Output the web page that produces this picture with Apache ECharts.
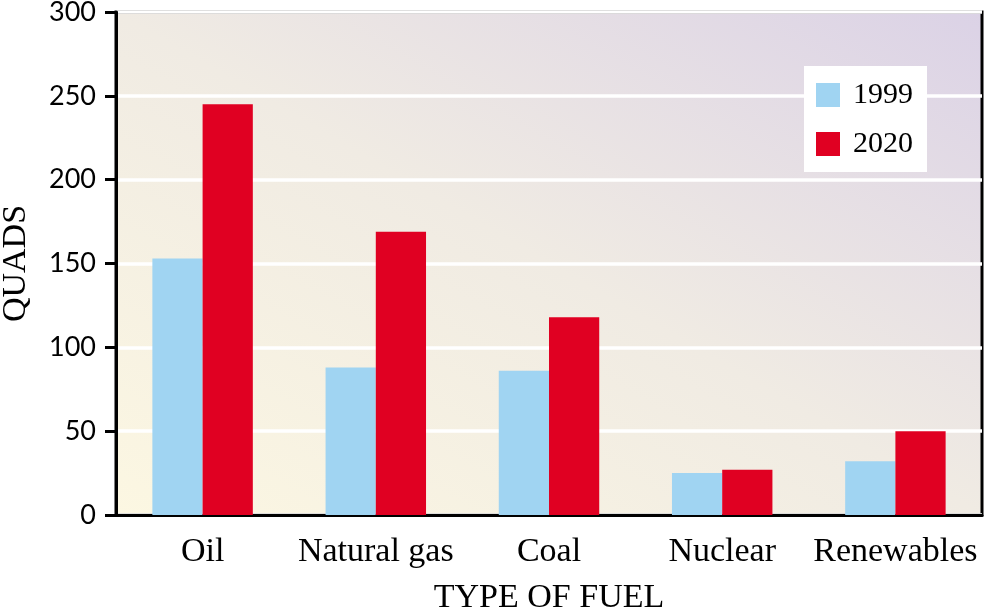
<!DOCTYPE html>
<html><head><meta charset="utf-8">
<script src="https://cdn.jsdelivr.net/npm/echarts@6/dist/echarts.min.js"></script>
<style>html,body{margin:0;padding:0;background:#fff}#c{width:987px;height:612px}</style>
</head><body><div id="c"></div>
<script>
const categories = ['Oil', 'Natural gas', 'Coal', 'Nuclear', 'Renewables'];
const series1999 = [153, 88, 86, 25, 32];
const series2020 = [245, 169, 118, 27, 50];
const yTicks = [0, 50, 100, 150, 200, 250, 300];

const chart = echarts.init(document.getElementById('c'));
const serif = 'Liberation Serif';
chart.setOption({
  animation: false,
  grid: {
    left: 116, right: 5, top: 12, bottom: 97,
    containLabel: false,
    outerBoundsMode: 'none',
    show: true,
    borderColor: '#000', borderWidth: 3,
    backgroundColor: {
      type: 'linear', global: true,
      x: 331, y: 640, x2: 767, y2: -113,
      colorStops: [
        {offset: 0, color: '#fcf7e2'},
        {offset: 0.5, color: '#f0ebe3'},
        {offset: 1, color: '#dbd2e6'}
      ]
    }
  },
  legend: {
    orient: 'vertical', left: 804, top: 66,
    backgroundColor: '#fff',
    padding: [14, 14, 13, 12],
    itemWidth: 24, itemHeight: 24, itemGap: 19,
    icon: 'rect',
    textStyle: {fontFamily: serif, fontSize: 30, color: '#000', padding: [0, 0, 0, 8]},
    data: ['1999', '2020']
  },
  xAxis: {
    type: 'category', data: categories,
    name: 'TYPE OF FUEL', nameLocation: 'middle', nameGap: 66,
    nameTextStyle: {fontFamily: serif, fontSize: 34, color: '#000'},
    axisLine: {lineStyle: {color: '#000', width: 3}},
    axisTick: {show: false},
    axisLabel: {fontFamily: serif, fontSize: 34, color: '#000', margin: 20, interval: 0}
  },
  yAxis: {
    type: 'value', min: 0, max: 300, interval: 50,
    name: 'QUADS', nameLocation: 'middle', nameGap: 83, nameRotate: 90,
    nameTextStyle: {fontFamily: serif, fontSize: 34, color: '#000'},
    axisLine: {show: true, lineStyle: {color: '#000', width: 3}},
    axisTick: {show: true, length: 11, lineStyle: {color: '#000', width: 3}},
    axisLabel: {fontFamily: 'Lato', fontSize: 27, color: '#000', margin: 20,
      formatter: v => yTicks.includes(v) ? String(v) : ''},
    splitLine: {show: true, lineStyle: {color: '#fff', width: 3.5}}
  },
  series: [
    {name: '1999', type: 'bar', data: series1999, itemStyle: {color: '#a0d4f2'},
     barGap: '0%', barCategoryGap: '42%'},
    {name: '2020', type: 'bar', data: series2020, itemStyle: {color: '#e00022'},
     barGap: '0%', barCategoryGap: '42%'}
  ]
});
</script></body></html>
